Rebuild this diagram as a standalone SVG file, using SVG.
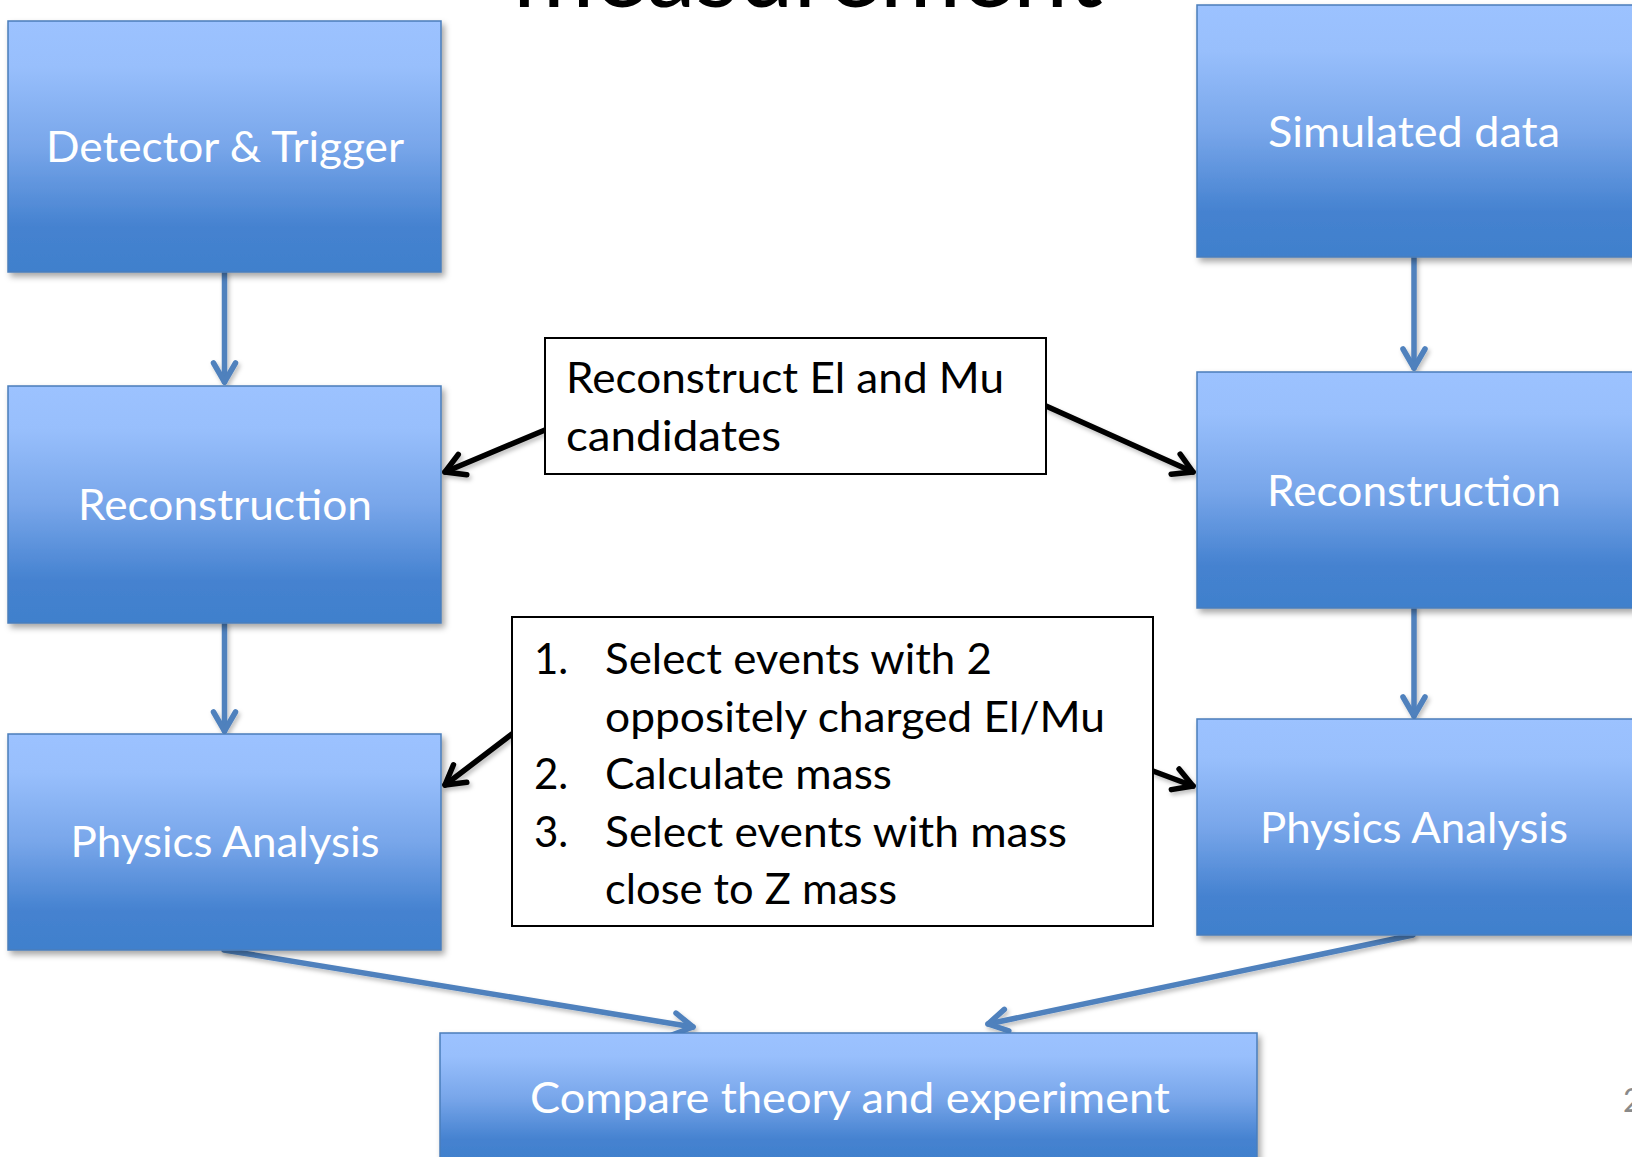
<svg xmlns="http://www.w3.org/2000/svg" width="1632" height="1157" viewBox="0 0 1632 1157">
  <defs>
    <linearGradient id="boxFill" x1="0" y1="0" x2="0" y2="1">
      <stop offset="0" stop-color="#9CC2FF"/>
      <stop offset="0.18" stop-color="#98BFFC"/>
      <stop offset="0.5" stop-color="#78A6EA"/>
      <stop offset="0.82" stop-color="#4582D0"/>
      <stop offset="1" stop-color="#4080CC"/>
    </linearGradient>
    <filter id="shadow" x="-10%" y="-10%" width="125%" height="130%">
      <feDropShadow dx="3" dy="4" stdDeviation="3" flood-color="#000" flood-opacity="0.35"/>
    </filter>
    <!-- user-space region so straight vertical lines still render -->
    <filter id="lineShadow" filterUnits="userSpaceOnUse" x="0" y="0" width="1632" height="1157">
      <feDropShadow dx="2" dy="3" stdDeviation="2" flood-color="#000" flood-opacity="0.25"/>
    </filter>
    <marker id="arrBlue" markerUnits="userSpaceOnUse" viewBox="-26 -15 30 30" refX="0" refY="0" markerWidth="30" markerHeight="30" orient="auto" overflow="visible">
      <path d="M-19,-11 L0,0 L-19,11" fill="none" stroke="#4F81BD" stroke-width="5.5" stroke-linecap="round" stroke-linejoin="round"/>
    </marker>
    <marker id="arrBlack" markerUnits="userSpaceOnUse" viewBox="-26 -15 30 30" refX="0" refY="0" markerWidth="30" markerHeight="30" orient="auto" overflow="visible">
      <path d="M-19,-11 L0,0 L-19,11" fill="none" stroke="#000" stroke-width="5.5" stroke-linecap="round" stroke-linejoin="round"/>
    </marker>
    <style>
      .box { fill: url(#boxFill); stroke: #4A7EBB; stroke-width: 1.5; filter: url(#shadow); }
      .note { fill: #FFFFFF; stroke: #000; stroke-width: 2; }
      .lbl { font-family: Lato, "Liberation Sans", sans-serif; font-size: 42px; fill: #FFFFFF; text-anchor: middle; }
      .txt { font-family: Lato, "Liberation Sans", sans-serif; font-size: 42px; fill: #000; }
      .blue { fill: none; stroke: #4F81BD; stroke-width: 5.5; stroke-linecap: round; marker-end: url(#arrBlue); filter: url(#lineShadow); }
      .black { fill: none; stroke: #000; stroke-width: 5.5; stroke-linecap: round; marker-end: url(#arrBlack); filter: url(#lineShadow); }
    </style>
  </defs>

  <rect width="1632" height="1157" fill="#FFFFFF"/>

  <!-- title line, cut off at the top edge -->
  <text x="513" y="7" font-family="Lato, 'Liberation Sans', sans-serif" font-size="100" fill="#000" textLength="590" lengthAdjust="spacingAndGlyphs">measurement</text>

  <!-- page number -->
  <text x="1623" y="1112" font-family="Lato, 'Liberation Sans', sans-serif" font-size="32" fill="#8A8A8A">2</text>

  <g id="connectors">
    <path class="blue" d="M224.5,272 L224.5,382"/>
    <path class="blue" d="M224.5,623 L224.5,731"/>
    <path class="blue" d="M1414,257 L1414,368"/>
    <path class="blue" d="M1414,608 L1414,716"/>
    <path class="blue" d="M224,950 L693,1027"/>
    <path class="blue" d="M1413,935 L988,1024"/>
    <path class="black" d="M545,430 L445,472"/>
    <path class="black" d="M1046,406 L1193,472"/>
    <path class="black" d="M512,734 L445,785"/>
    <path class="black" d="M1153,771 L1193,786"/>
  </g>

  <g id="detector-trigger">
    <rect class="box" x="8" y="21" width="433" height="251"/>
    <text class="lbl" x="225" y="162" textLength="358" lengthAdjust="spacingAndGlyphs">Detector &amp; Trigger</text>
  </g>

  <g id="reconstruction-left">
    <rect class="box" x="8" y="386" width="433" height="237"/>
    <text class="lbl" x="225" y="520" textLength="294" lengthAdjust="spacingAndGlyphs">Reconstruction</text>
  </g>

  <g id="physics-left">
    <rect class="box" x="8" y="734" width="433" height="216"/>
    <text class="lbl" x="225" y="857" textLength="309" lengthAdjust="spacingAndGlyphs">Physics Analysis</text>
  </g>

  <g id="simulated-data">
    <rect class="box" x="1197" y="5" width="436" height="252"/>
    <text class="lbl" x="1414" y="147" textLength="292" lengthAdjust="spacingAndGlyphs">Simulated data</text>
  </g>

  <g id="reconstruction-right">
    <rect class="box" x="1197" y="372" width="436" height="236"/>
    <text class="lbl" x="1414" y="506" textLength="294" lengthAdjust="spacingAndGlyphs">Reconstruction</text>
  </g>

  <g id="physics-right">
    <rect class="box" x="1197" y="719" width="436" height="216"/>
    <text class="lbl" x="1414" y="843" textLength="308" lengthAdjust="spacingAndGlyphs">Physics Analysis</text>
  </g>

  <g id="compare">
    <rect class="box" x="440" y="1033" width="817" height="130"/>
    <text class="lbl" x="850" y="1113" textLength="640" lengthAdjust="spacingAndGlyphs">Compare theory and experiment</text>
  </g>

  <g id="note-reconstruct">
    <rect class="note" x="545" y="338" width="501" height="136"/>
    <text class="txt" x="566" y="393" textLength="438" lengthAdjust="spacingAndGlyphs">Reconstruct El and Mu</text>
    <text class="txt" x="566" y="451" textLength="215" lengthAdjust="spacingAndGlyphs">candidates</text>
  </g>

  <g id="note-selection">
    <rect class="note" x="512" y="617" width="641" height="309"/>
    <text class="txt" x="534" y="674">1.</text>
    <text class="txt" x="605" y="674" textLength="387" lengthAdjust="spacingAndGlyphs">Select events with 2</text>
    <text class="txt" x="605" y="732" textLength="500" lengthAdjust="spacingAndGlyphs">oppositely charged El/Mu</text>
    <text class="txt" x="534" y="789">2.</text>
    <text class="txt" x="605" y="789" textLength="287" lengthAdjust="spacingAndGlyphs">Calculate mass</text>
    <text class="txt" x="534" y="847">3.</text>
    <text class="txt" x="605" y="847" textLength="462" lengthAdjust="spacingAndGlyphs">Select events with mass</text>
    <text class="txt" x="605" y="904" textLength="292" lengthAdjust="spacingAndGlyphs">close to Z mass</text>
  </g>
</svg>
